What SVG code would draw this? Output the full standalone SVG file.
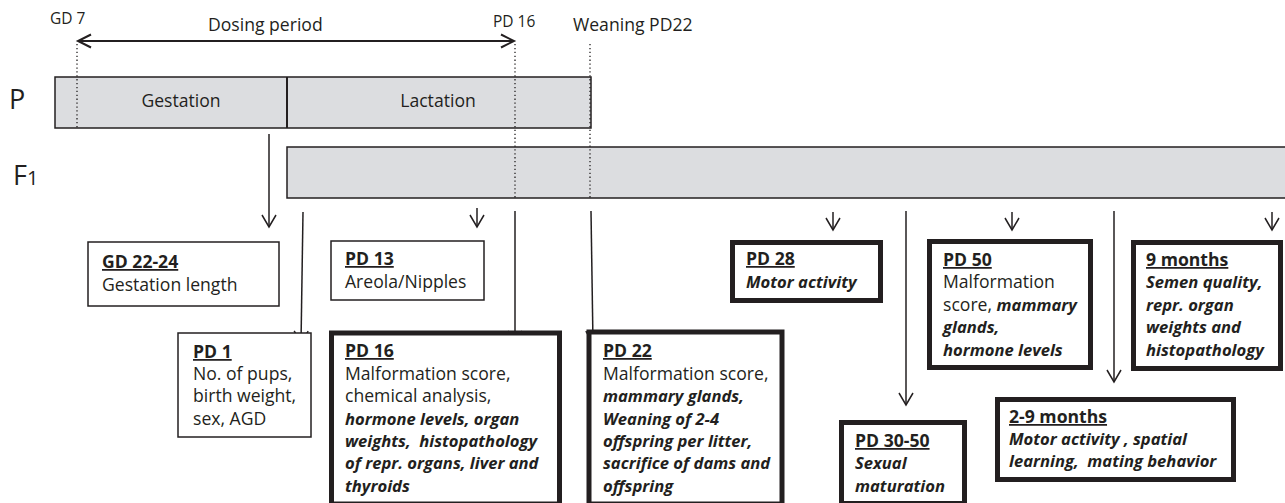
<svg xmlns="http://www.w3.org/2000/svg" width="1285" height="503" viewBox="0 0 1285 503">
<defs>
<style>
text{font-family:"Open Sans","Liberation Sans",sans-serif;fill:#231f20;}
.s{font-size:15.5px;}
.m{font-size:17.6px;}
.big{font-size:27px;}
.h{font-size:17.6px;font-weight:bold;text-decoration:underline;}
.bi{font-weight:bold;font-style:italic;font-size:16.6px;}
.bar{fill:#dcdde0;stroke:#231f20;stroke-width:1.5;}
.thin{fill:#fff;stroke:#231f20;stroke-width:1.5;}
.thick{fill:#fff;stroke:#231f20;stroke-width:5;}
.arr{stroke:#231f20;stroke-width:1.5;fill:none;marker-end:url(#ah);}
.dot{stroke:#231f20;stroke-width:1.3;stroke-dasharray:1.3 2.6;fill:none;}
</style>
<marker id="ah" markerUnits="userSpaceOnUse" orient="auto" refX="0" refY="0" markerWidth="20" markerHeight="20" overflow="visible">
<path d="M-12,-7 L0,0 L-12,7" fill="none" stroke="#231f20" stroke-width="1.5"/>
</marker>
<marker id="dh" markerUnits="userSpaceOnUse" orient="auto-start-reverse" refX="0" refY="0" markerWidth="20" markerHeight="20" overflow="visible">
<path d="M-13,-6.5 L0,0 L-13,6.5" fill="none" stroke="#231f20" stroke-width="2"/>
</marker>
</defs>
<rect width="1285" height="503" fill="#fff"/>

<g id="timeline-labels">
<text class="s" x="50" y="24">GD 7</text>
<text class="m" x="208" y="31" font-size="18.8">Dosing period</text>
<text class="s" x="493" y="27">PD 16</text>
<text class="m" x="573" y="31">Weaning PD22</text>
</g>

<g id="P">
<text class="big" x="9" y="109">P</text>
<rect class="bar" x="55" y="77" width="536" height="51"/>
<line x1="287" y1="77" x2="287" y2="128" stroke="#231f20" stroke-width="2"/>
<text class="m" x="181" y="107" text-anchor="middle">Gestation</text>
<text class="m" x="438" y="107" text-anchor="middle">Lactation</text>
</g>

<g id="F1">
<text class="big" x="13" y="185">F<tspan font-size="20">1</tspan></text>
<rect class="bar" x="287" y="147" width="1010" height="51"/>
</g>

<g id="guides">
<line class="dot" x1="77" y1="44" x2="77" y2="128"/>
<line class="dot" x1="515" y1="44" x2="515" y2="198"/>
<line class="dot" x1="590" y1="44" x2="590" y2="198"/>
</g>

<g id="connectors">
<line x1="78" y1="41" x2="514" y2="41" stroke="#231f20" stroke-width="2" marker-start="url(#dh)" marker-end="url(#dh)"/>
<line class="arr" x1="269" y1="134" x2="269" y2="227"/>
<line class="arr" x1="303" y1="212" x2="301" y2="343"/>
<line class="arr" x1="477" y1="208" x2="477" y2="227"/>
<line class="arr" x1="515" y1="211" x2="515" y2="343"/>
<line class="arr" x1="591" y1="211" x2="593" y2="343"/>
<line class="arr" x1="833" y1="212" x2="833" y2="230"/>
<line class="arr" x1="906" y1="211" x2="906" y2="405"/>
<line class="arr" x1="1012" y1="212" x2="1012" y2="230"/>
<line class="arr" x1="1114" y1="211" x2="1114" y2="382"/>
<line class="arr" x1="1272" y1="212" x2="1272" y2="230"/>
</g>

<g id="gd22">
<rect class="thin" x="88" y="242" width="191" height="64"/>
<text class="h" x="102" y="268">GD 22-24</text>
<text class="m" x="102" y="291">Gestation length</text>
</g>

<g id="pd13">
<rect class="thin" x="331" y="241" width="153" height="59"/>
<text class="h" x="345" y="265">PD 13</text>
<text class="m" x="345" y="288">Areola/Nipples</text>
</g>

<g id="pd1">
<rect class="thin" x="178" y="333" width="133" height="104"/>
<text class="h" x="193" y="358">PD 1</text>
<text class="m" x="193" y="380">No. of pups,</text>
<text class="m" x="193" y="402">birth weight,</text>
<text class="m" x="193" y="425">sex, AGD</text>
</g>

<g id="pd16">
<rect class="thick" x="331.5" y="333" width="228" height="171"/>
<text class="h" x="345" y="357">PD 16</text>
<text class="m" x="345" y="380">Malformation score,</text>
<text class="m" x="345" y="402">chemical analysis,</text>
<text class="bi" x="345" y="425">hormone levels, organ</text>
<text class="bi" x="345" y="447" xml:space="preserve">weights,  histopathology</text>
<text class="bi" x="345" y="469">of repr. organs, liver and</text>
<text class="bi" x="345" y="492">thyroids</text>
</g>

<g id="pd22">
<rect class="thick" x="589" y="332" width="193" height="172"/>
<text class="h" x="603" y="357">PD 22</text>
<text class="m" x="603" y="380">Malformation score,</text>
<text class="bi" x="603" y="402">mammary glands,</text>
<text class="bi" x="603" y="425">Weaning of 2-4</text>
<text class="bi" x="603" y="447">offspring per litter,</text>
<text class="bi" x="603" y="469">sacrifice of dams and</text>
<text class="bi" x="603" y="492">offspring</text>
</g>

<g id="pd28">
<rect class="thick" x="732.5" y="242.5" width="148" height="58"/>
<text class="h" x="746" y="265">PD 28</text>
<text class="bi" x="746" y="288">Motor activity</text>
</g>

<g id="pd30">
<rect class="thick" x="841.5" y="422.5" width="123" height="81"/>
<text class="h" x="855" y="447">PD 30-50</text>
<text class="bi" x="855" y="469">Sexual</text>
<text class="bi" x="855" y="492">maturation</text>
</g>

<g id="pd50">
<rect class="thick" x="929.5" y="241.5" width="161" height="126"/>
<text class="h" x="943" y="266">PD 50</text>
<text class="m" x="943" y="288">Malformation</text>
<text class="m" x="943" y="311">score, <tspan class="bi">mammary</tspan></text>
<text class="bi" x="943" y="333">glands,</text>
<text class="bi" x="943" y="356">hormone levels</text>
</g>

<g id="m9">
<rect class="thick" x="1133.5" y="242.5" width="147" height="126"/>
<text class="h" x="1146" y="266">9 months</text>
<text class="bi" x="1146" y="288">Semen quality,</text>
<text class="bi" x="1146" y="311">repr. organ</text>
<text class="bi" x="1146" y="333">weights and</text>
<text class="bi" x="1146" y="356">histopathology</text>
</g>

<g id="m29">
<rect class="thick" x="997.5" y="399.5" width="236" height="80"/>
<text class="h" x="1009" y="423">2-9 months</text>
<text class="bi" x="1009" y="445">Motor activity , spatial</text>
<text class="bi" x="1009" y="467" xml:space="preserve">learning,  mating behavior</text>
</g>
</svg>
